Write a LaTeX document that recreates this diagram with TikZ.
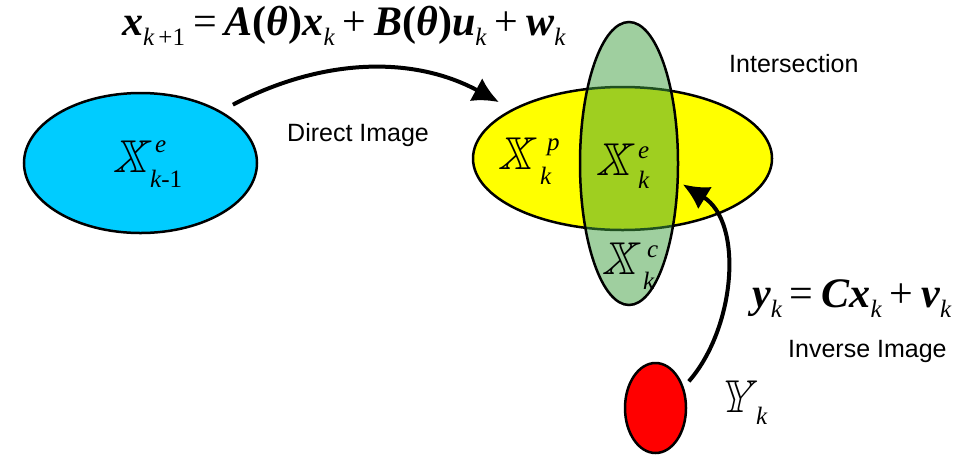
\documentclass[tikz,border=0pt]{standalone}
\usepackage{fontspec}
\usepackage{amssymb}
\usepackage{graphicx}
\setmainfont{Liberation Sans}
\newfontfamily\tms{Liberation Serif}
\usetikzlibrary{shapes.geometric,arrows.meta}
\definecolor{cblue}{RGB}{0,204,255}
\definecolor{cyel}{RGB}{255,255,0}
\definecolor{cgreen}{RGB}{65,161,64}
\definecolor{cred}{RGB}{255,0,0}
\newcommand\bv[1]{{\bfseries\itshape #1}}
\newcommand\ssub[1]{\raisebox{-10pt}{\fontsize{25}{25}\selectfont\itshape #1}}
\newcommand\bbX{\scalebox{4.6}{$\mathbb{X}$}}
\newcommand\bbY{\scalebox{4.6}{$\mathbb{Y}$}}
\begin{document}
\begin{tikzpicture}[x=1pt,y=-1pt,
 set/.style={ellipse, draw=black, line width=2.5pt, inner sep=0pt, outer sep=0pt},
 conn/.style={line width=4pt, -{Latex[length=26pt,width=26pt]}},
 lbl/.style={font=\fontsize{25}{30}\selectfont, inner sep=0pt, anchor=base west},
 eqn/.style={font=\fontsize{42}{46}\selectfont\tms, inner sep=0pt, anchor=base west},
 bb/.style={inner sep=0pt, anchor=base, xslant=0.22, transform shape},
 scr/.style={font=\fontsize{25}{25}\selectfont\tms\itshape, inner sep=0pt, anchor=base west},
]
\fill[white] (0,0) rectangle (979,456);
\path[use as bounding box] (0,0) rectangle (979,456);

\node[set, fill=cblue, minimum width=233pt, minimum height=140pt] (blue) at (140.5,163) {};
\node[set, fill=cyel, minimum width=299pt, minimum height=143pt] (yellow) at (622.5,158.5) {};
\node[set, fill=cgreen, fill opacity=0.5, minimum width=98pt, minimum height=283pt] (green) at (629,163.5) {};
\node[set, fill=cred, minimum width=61pt, minimum height=90pt] (red) at (655.5,408) {};

\draw[conn, shorten <=15pt, shorten >=16pt] (blue.33) .. controls (326,56) and (416,57) .. (yellow.156);
\draw[conn, shorten <=9pt, shorten >=6pt] (red.36) .. controls (735.6,328) and (744,222) .. (green.-20);

\node[bb] (Xa) at (130,172) {\bbX};
\node[scr] (Xae) at (155,152) {e};
\node[scr] (Xak) at (150,187) {k\upshape-1};

\node[bb] (Xp) at (515,169) {\bbX};
\node[scr] (Xpp) at (547,150) {p};
\node[scr] (Xpk) at (540,184) {k};

\node[bb] (Xe) at (613,175) {\bbX};
\node[scr] (Xee) at (638,158) {e};
\node[scr] (Xek) at (638,188) {k};

\node[bb] (Xc) at (619,274) {\bbX};
\node[scr] (Xcc) at (647,257) {c};
\node[scr] (Xck) at (643,289) {k};

\node[bb] (Yy) at (735,412) {\bbY};
\node[scr] (Yk) at (756,424) {k};

\node[lbl] (di) at (287,141) {Direct Image};
\node[lbl] (is) at (729,72) {Intersection};
\node[lbl] (ii) at (788,357) {Inverse Image};

\node[eqn] (eq1) at (122,35) {\bv{x}\ssub{k\upshape\,+1}\hspace{8pt}=\hspace{8pt}\bv{A}\textbf{(}\bv{θ}\textbf{)}\bv{x}\ssub{k}\hspace{8pt}+\hspace{8pt}\bv{B}\textbf{(}\bv{θ}\textbf{)}\bv{u}\ssub{k}\hspace{8pt}+\hspace{8pt}\bv{w}\ssub{k}};
\node[eqn] (eq2) at (752,307) {\bv{y}\ssub{k}\hspace{8pt}=\hspace{8pt}\bv{C}\bv{x}\ssub{k}\hspace{8pt}+\hspace{8pt}\bv{v}\ssub{k}};
\end{tikzpicture}
\end{document}
